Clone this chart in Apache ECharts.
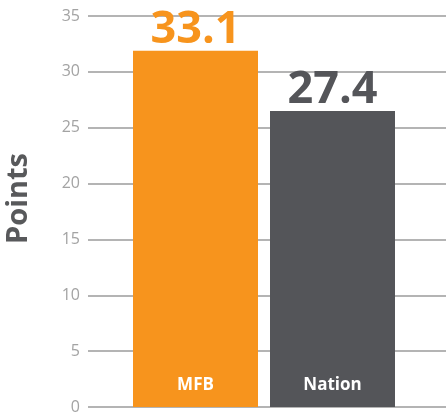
<!DOCTYPE html>
<html>
<head>
<meta charset="utf-8">
<script src="https://cdn.jsdelivr.net/npm/echarts@6/dist/echarts.min.js"></script>
<style>
  html, body { margin: 0; padding: 0; background: #fff; }
  #chart { width: 446px; height: 413px; }
</style>
</head>
<body>
<div id="chart"></div>
<script>
// values
const categories = ["MFB", "Nation"];
const barHeights = [31.9, 26.5];     // drawn bar heights
const valueLabels = ["33.1", "27.4"]; // printed values above bars
const barColors = ["#F7941D", "#545559"];
const yTicks = [0, 35, 5];           // min, max, interval

const chart = echarts.init(document.getElementById("chart"), null, { renderer: "canvas" });

const grids = [
  { left: 88, right: 0, top: 16, bottom: 6, outerBoundsMode: "none" },
  { left: 127, right: 45, top: 16, bottom: 6, outerBoundsMode: "none" },
];

chart.setOption({
  animation: false,
  grid: grids,
  xAxis: [
    { gridIndex: 0, type: "category", data: categories, show: false },
    {
      gridIndex: 1, type: "category", data: categories, z: 10,
      axisLine: { show: false }, axisTick: { show: false },
      axisLabel: {
        inside: true, margin: 13, color: "#fff", fontWeight: "bold",
        fontSize: 17, fontFamily: "Open Sans",
      },
    },
  ],
  yAxis: [
    {
      gridIndex: 0, type: "value", min: yTicks[0], max: yTicks[1], interval: yTicks[2],
      axisLine: { show: false }, axisTick: { show: false },
      axisLabel: { color: "#a3a3a3", fontSize: 16, margin: 8, fontFamily: "Open Sans" },
      splitLine: { lineStyle: { color: "#9b9b9b", width: 1.5 } },
      name: "Points", nameLocation: "middle", nameGap: 55, nameRotate: 90,
      nameTextStyle: { color: "#58595B", fontSize: 29, fontWeight: "bold", fontFamily: "Open Sans",
                       padding: [0, 0, 0, 26] },
    },
    {
      gridIndex: 1, type: "value", min: yTicks[0], max: yTicks[1], interval: yTicks[2],
      show: false, splitLine: { show: false },
    },
  ],
  series: [{
    type: "bar",
    xAxisIndex: 1, yAxisIndex: 1,
    barWidth: 125,
    data: barHeights.map((v, i) => ({
      value: v,
      itemStyle: { color: barColors[i] },
      label: { color: barColors[i] },
    })),
    label: {
      show: true, position: "top", distance: -2,
      fontSize: 45, fontWeight: "bold", fontFamily: "Open Sans",
      formatter: (p) => valueLabels[p.dataIndex],
    },
  }],
});
</script>
</body>
</html>
